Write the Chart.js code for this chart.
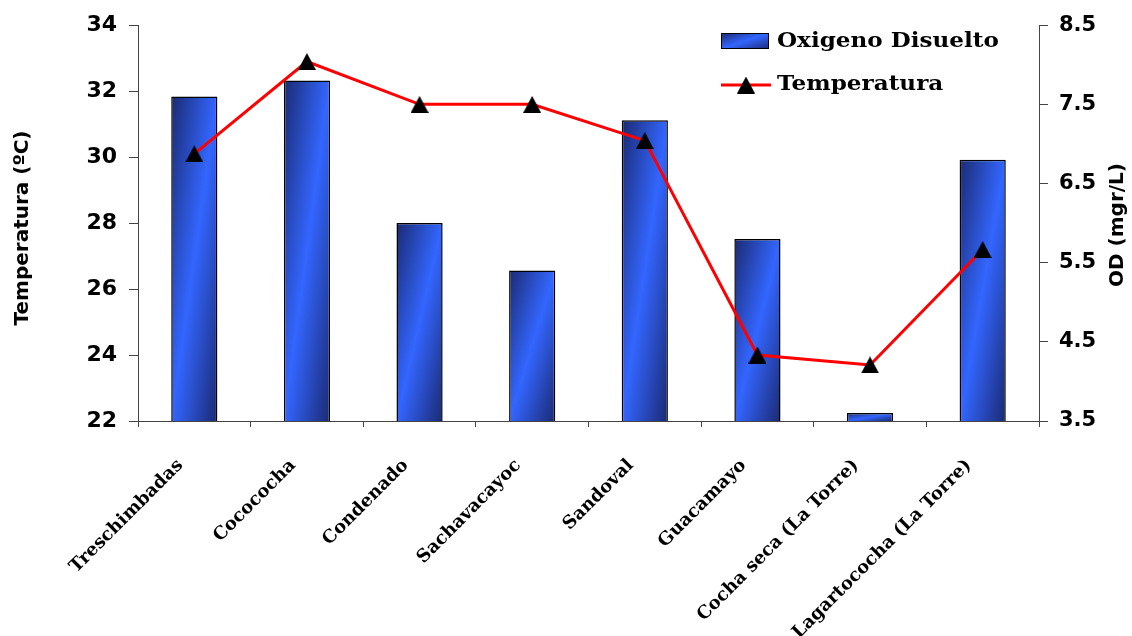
<!DOCTYPE html>
<html>
<head>
<meta charset="utf-8">
<script src="https://cdn.jsdelivr.net/npm/chart.js@4.4.1/dist/chart.umd.min.js"></script>
<style>
  html, body { margin: 0; padding: 0; background: #fff; }
  canvas { display: block; }
</style>
</head>
<body>
<canvas id="chart" width="1132" height="636"></canvas>
<script>
// Lagunas: oxígeno disuelto (barras, eje derecho) y temperatura (línea, eje izquierdo)
const categories = ['Treschimbadas', 'Cocococha', 'Condenado', 'Sachavacayoc', 'Sandoval',
  'Guacamayo', 'Cocha seca (La Torre)', 'Lagartococha (La Torre)'];
const odValues = [7.6, 7.8, 6.0, 5.4, 7.3, 5.8, 3.6, 6.8];
const tempValues = [30.1, 32.9, 31.6, 31.6, 30.5, 24.0, 23.7, 27.2];
const tempRange = [22, 34, 2];    // min, max, paso
const odRange = [3.5, 8.5, 1];

const seriesNames = ['Oxigeno Disuelto', 'Temperatura'];
const axisTitles = ['Temperatura (ºC)', 'OD (mgr/L)'];

const DARK = '#1b2a72';
const BRIGHT = '#3366ff';
const BAR_FRAC = 0.41;
const SANS = '"DejaVu Sans", sans-serif';
const SERIF = '"DejaVu Serif", serif';

// degradado diagonal estilo Excel: oscuro en esquinas, claro en el centro
function barGradient(ctx, x0, y0, w, h) {
  const dx = 1 / w, dy = 1 / Math.max(h, 1);
  const k = 2 / (dx * dx + dy * dy);
  const g = ctx.createLinearGradient(x0, y0, x0 + k * dx, y0 + k * dy);
  g.addColorStop(0, DARK);
  g.addColorStop(0.5, BRIGHT);
  g.addColorStop(1, DARK);
  return g;
}

function triangleImage(w, h) {
  const c = document.createElement('canvas');
  c.width = w; c.height = h;
  const t = c.getContext('2d');
  t.fillStyle = '#000';
  t.beginPath();
  t.moveTo(w / 2, 0);
  t.lineTo(w, h);
  t.lineTo(0, h);
  t.closePath();
  t.fill();
  return c;
}
const marker = triangleImage(18, 17);

const decorations = {
  id: 'decorations',
  afterDraw(chart) {
    const ctx = chart.ctx;
    ctx.save();
    ctx.fillStyle = '#000';
    ctx.textAlign = 'center';
    ctx.textBaseline = 'middle';
    ctx.font = 'bold 20px ' + SANS;

    ctx.save();
    ctx.translate(23, 228);
    ctx.rotate(-Math.PI / 2);
    ctx.fillText(axisTitles[0], 0, 0);
    ctx.restore();

    ctx.save();
    ctx.translate(1118, 225);
    ctx.rotate(-Math.PI / 2);
    ctx.fillText(axisTitles[1], 0, 0);
    ctx.restore();

    // leyenda
    ctx.fillStyle = barGradient(ctx, 721, 33, 48, 16);
    ctx.fillRect(721, 33, 48, 16);
    ctx.strokeStyle = '#000';
    ctx.lineWidth = 1;
    ctx.strokeRect(721.5, 33.5, 47, 15);

    ctx.strokeStyle = '#ff0000';
    ctx.lineWidth = 3;
    ctx.beginPath();
    ctx.moveTo(721, 85);
    ctx.lineTo(771, 85);
    ctx.stroke();
    ctx.drawImage(marker, 746 - 9, 85 - 8.5);

    ctx.fillStyle = '#000';
    ctx.textAlign = 'left';
    ctx.font = 'bold 21px ' + SERIF;
    ctx.save();
    ctx.translate(777, 0);
    ctx.scale(1.1, 1);
    ctx.fillText(seriesNames[0], 0, 42);
    ctx.fillText(seriesNames[1], 0, 85);
    ctx.restore();
    ctx.restore();
  }
};

const axisColor = '#444';

new Chart(document.getElementById('chart'), {
  data: {
    labels: categories,
    datasets: [
      {
        type: 'line',
        label: seriesNames[1],
        data: tempValues,
        yAxisID: 'y',
        order: 0,
        borderColor: '#ff0000',
        borderWidth: 3,
        tension: 0,
        pointStyle: marker,
        pointRadius: 9,
        pointHoverRadius: 9,
      },
      {
        type: 'bar',
        label: seriesNames[0],
        data: odValues,
        yAxisID: 'y1',
        order: 1,
        borderColor: '#000',
        borderWidth: 1.5,
        categoryPercentage: 1,
        barPercentage: BAR_FRAC,
        backgroundColor: (c) => {
          const chart = c.chart;
          const xs = chart.scales.x, ys = chart.scales.y1;
          if (!xs || !ys || c.type !== 'data' || !chart.chartArea) return BRIGHT;
          const cx = xs.getPixelForValue(c.dataIndex);
          const w = (xs.width / categories.length) * BAR_FRAC;
          const top = ys.getPixelForValue(c.raw);
          return barGradient(chart.ctx, cx - w / 2, top, w, ys.bottom - top);
        },
      },
    ],
  },
  options: {
    responsive: false,
    animation: false,
    devicePixelRatio: 1,
    layout: { padding: { top: 24, left: 0, right: 0, bottom: 0 } },
    plugins: { legend: { display: false }, tooltip: { enabled: false } },
    scales: {
      x: {
        type: 'category',
        offset: true,
        grid: { offset: true, drawOnChartArea: false, tickLength: 6, color: axisColor },
        border: { color: axisColor },
        ticks: {
          color: '#000', font: { family: SERIF, size: 18, weight: 'bold' },
          minRotation: 45, maxRotation: 45, autoSkip: false, padding: 28, labelOffset: -14,
        },
        afterFit: (s) => { s.height = 636 - 421; },
      },
      y: {
        position: 'left',
        min: tempRange[0], max: tempRange[1],
        grid: { drawOnChartArea: false, tickLength: 9, color: axisColor },
        border: { color: axisColor },
        ticks: { stepSize: tempRange[2], color: '#000', padding: 12, font: { family: SANS, size: 22, weight: 'bold' } },
        afterFit: (s) => { s.width = 138; },
      },
      y1: {
        position: 'right',
        min: odRange[0], max: odRange[1],
        grid: { drawOnChartArea: false, tickLength: 9, color: axisColor },
        border: { color: axisColor },
        ticks: { stepSize: odRange[2], color: '#000', padding: 11, font: { family: SANS, size: 21, weight: 'bold' } },
        afterFit: (s) => { s.width = 1132 - 1039; },
      },
    },
  },
  plugins: [decorations],
});
</script>
</body>
</html>
